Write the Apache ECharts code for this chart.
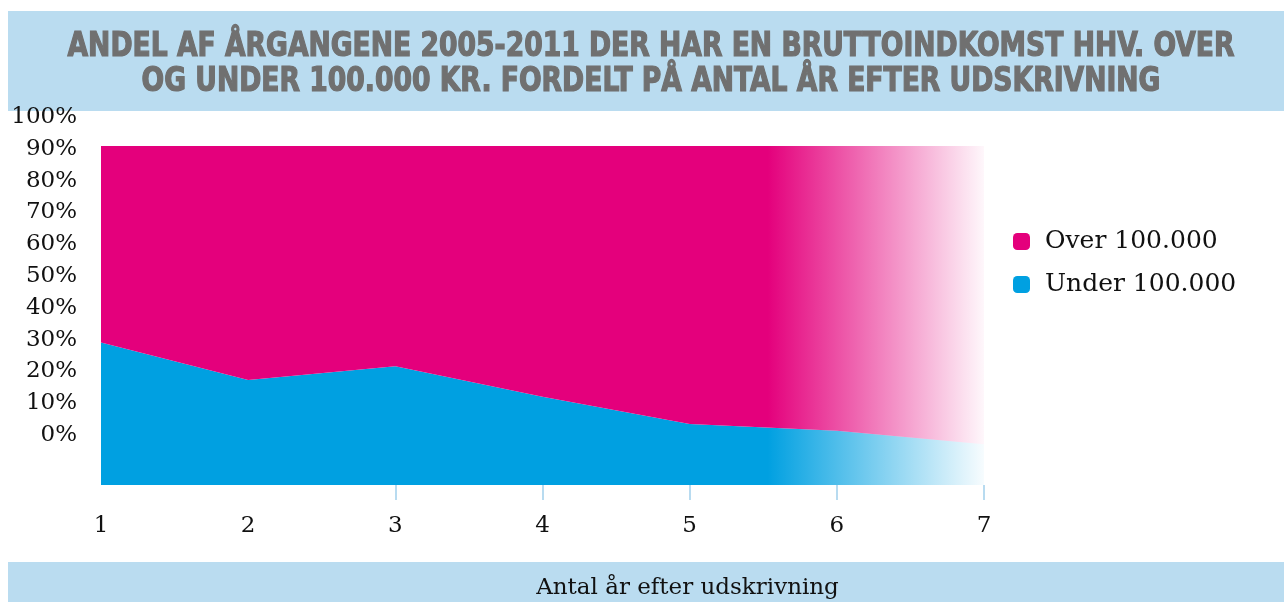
<!DOCTYPE html>
<html>
<head>
<meta charset="utf-8">
<style>
  html, body { margin: 0; padding: 0; background: #fff; }
  #chart { width: 1284px; height: 602px; }
</style>
<script src="https://cdn.jsdelivr.net/npm/echarts@6/dist/echarts.min.js"></script>
</head>
<body>
<div id="chart"></div>
<script>
// data
var years = ["1", "2", "3", "4", "5", "6", "7"];
var underValues = [42, 31, 35, 26, 18, 16, 12];
var overValues = [58, 69, 65, 74, 82, 84, 88];
var seriesNames = ["Over 100.000", "Under 100.000"];
var titleLines = [
  "ANDEL AF ÅRGANGENE 2005-2011 DER HAR EN BRUTTOINDKOMST HHV. OVER",
  "OG UNDER 100.000 KR. FORDELT PÅ ANTAL ÅR EFTER UDSKRIVNING",
];

var pink = "#e4007c";
var blue = "#00a0e1";
var band = "#badcf0";
var serif = "DejaVu Serif";
var titleFont = "'Liberation Sans Narrow', 'DejaVu Sans Condensed', 'DejaVu Sans', sans-serif";

// fades out to the right
function fade(r, g, b) {
  return new echarts.graphic.LinearGradient(0, 0, 1, 0, [
    { offset: 0, color: "rgba(" + r + "," + g + "," + b + ",1)" },
    { offset: 0.755, color: "rgba(" + r + "," + g + "," + b + ",1)" },
    { offset: 1, color: "rgba(" + r + "," + g + "," + b + ",0.03)" },
  ]);
}

// squeeze the title so the first line is ~1167px wide
var ctx = document.createElement("canvas").getContext("2d");
ctx.font = "bold 33px " + titleFont;
var titleScale = 1167 / ctx.measureText(titleLines[0]).width;

function titleText(str, y) {
  return {
    type: "text",
    x: 651,
    y: y,
    scaleX: titleScale,
    style: {
      text: str,
      x: 0,
      y: 0,
      align: "center",
      verticalAlign: "middle",
      font: "bold 33px " + titleFont,
      fill: "#707070",
      stroke: "#707070",
      lineWidth: 1.2,
    },
  };
}

var chart = echarts.init(document.getElementById("chart"));

var option = {
  backgroundColor: "#fff",
  animation: false,
  graphic: [
    { type: "rect", z: -10, shape: { x: 8, y: 11, width: 1276, height: 100 }, style: { fill: band } },
    { type: "rect", z: -10, shape: { x: 8, y: 562, width: 1276, height: 40 }, style: { fill: band } },
    titleText(titleLines[0], 47),
    titleText(titleLines[1], 82),
  ],
  legend: {
    left: 1013,
    top: 229,
    padding: 0,
    orient: "vertical",
    icon: "roundRect",
    itemWidth: 17,
    itemHeight: 17,
    itemGap: 18,
    textStyle: { fontFamily: serif, fontSize: 25, color: "#111", padding: [0, 0, 0, 10] },
    data: [
      { name: seriesNames[0], itemStyle: { color: pink } },
      { name: seriesNames[1], itemStyle: { color: blue } },
    ],
  },
  grid: [
    { left: 101, right: 300, top: 146, bottom: 117, outerBoundsMode: "none" },
    // only for the % labels
    { left: 85, width: 10, top: 117, height: 318, outerBoundsMode: "none" },
  ],
  xAxis: [
    {
      type: "category",
      gridIndex: 0,
      data: years,
      boundaryGap: false,
      axisLine: { show: false },
      axisTick: {
        show: true,
        length: 15,
        interval: function (index) {
          return index >= 2;
        },
        lineStyle: { color: "#b8dbf0", width: 2 },
      },
      axisLabel: { margin: 30, fontFamily: serif, fontSize: 23, color: "#111" },
      name: "Antal år efter udskrivning",
      nameLocation: "middle",
      nameGap: 92,
      nameTextStyle: { fontFamily: serif, fontSize: 23, color: "#111", padding: [0, 0, 0, 290] },
    },
    { type: "value", gridIndex: 1, show: false },
  ],
  yAxis: [
    { type: "value", gridIndex: 0, min: 0, max: 100, show: false },
    {
      type: "value",
      gridIndex: 1,
      min: 0,
      max: 100,
      interval: 10,
      axisLine: { show: false },
      axisTick: { show: false },
      splitLine: { show: false },
      axisLabel: { margin: 8, fontFamily: serif, fontSize: 23, color: "#111", formatter: "{value}%" },
    },
  ],
  series: [
    {
      name: seriesNames[1],
      type: "line",
      stack: "total",
      data: underValues,
      symbol: "none",
      lineStyle: { width: 0 },
      itemStyle: { color: blue },
      areaStyle: { color: fade(0, 160, 225), opacity: 1 },
    },
    {
      name: seriesNames[0],
      type: "line",
      stack: "total",
      data: overValues,
      symbol: "none",
      lineStyle: { width: 0 },
      itemStyle: { color: pink },
      areaStyle: { color: fade(228, 0, 124), opacity: 1 },
    },
  ],
};

chart.setOption(option);
</script>
</body>
</html>
